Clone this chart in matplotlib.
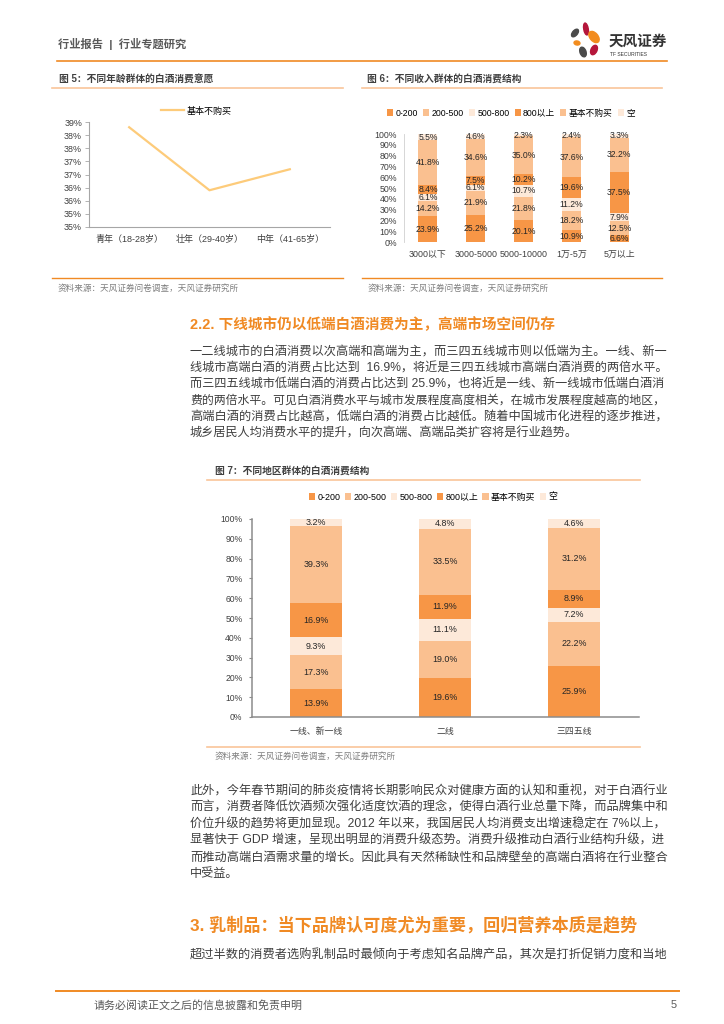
import matplotlib
matplotlib.use('Agg')
import matplotlib.pyplot as plt
from matplotlib.lines import Line2D
from matplotlib.patches import Ellipse

plt.rcParams['font.family'] = ['Liberation Sans', 'Noto Sans CJK SC']

W, H = 724, 1024

# ---- data ----
age_groups = ['青年（18-28岁）', '壮年（29-40岁）', '中年（41-65岁）']
age_no_buy = [38.8, 36.4, 37.2]
age_ticks = [35.0, 35.5, 36.0, 36.5, 37.0, 37.5, 38.0, 38.5, 39.0]
age_tick_labels = ['35%', '35%', '36%', '36%', '37%', '37%', '38%', '38%', '39%']

price_bands = ['0-200', '200-500', '500-800', '800以上', '基本不购买', '空']

income_groups = ['3000以下', '3000-5000', '5000-10000', '1万-5万', '5万以上']
income_0_200 = [23.9, 25.2, 20.1, 10.9, 6.6]
income_200_500 = [14.2, 21.9, 21.8, 18.2, 12.5]
income_500_800 = [6.1, 6.1, 10.7, 11.2, 7.9]
income_800_up = [8.4, 7.5, 10.2, 19.6, 37.5]
income_no_buy = [41.8, 34.6, 35.0, 37.6, 32.2]
income_blank = [5.5, 4.6, 2.3, 2.4, 3.3]

city_groups = ['一线、新一线', '二线', '三四五线']
city_0_200 = [13.9, 19.6, 25.9]
city_200_500 = [17.3, 19.0, 22.2]
city_500_800 = [9.3, 11.1, 7.2]
city_800_up = [16.9, 11.9, 8.9]
city_no_buy = [39.3, 33.5, 31.2]
city_blank = [3.2, 4.8, 4.6]

pct_ticks = [0, 10, 20, 30, 40, 50, 60, 70, 80, 90, 100]

para1 = [
    '一二线城市的白酒消费以次高端和高端为主，而三四五线城市则以低端为主。一线、新一',
    '线城市高端白酒的消费占比达到  16.9%，将近是三四五线城市高端白酒消费的两倍水平。',
    '而三四五线城市低端白酒的消费占比达到 25.9%，也将近是一线、新一线城市低端白酒消',
    '费的两倍水平。可见白酒消费水平与城市发展程度高度相关，在城市发展程度越高的地区，',
    '高端白酒的消费占比越高，低端白酒的消费占比越低。随着中国城市化进程的逐步推进，',
    '城乡居民人均消费水平的提升，向次高端、高端品类扩容将是行业趋势。',
]
para2 = [
    '此外，今年春节期间的肺炎疫情将长期影响民众对健康方面的认知和重视，对于白酒行业',
    '而言，消费者降低饮酒频次强化适度饮酒的理念，使得白酒行业总量下降，而品牌集中和',
    '价位升级的趋势将更加显现。2012 年以来，我国居民人均消费支出增速稳定在 7%以上，',
    '显著快于 GDP 增速，呈现出明显的消费升级态势。消费升级推动白酒行业结构升级，进',
    '而推动高端白酒需求量的增长。因此具有天然稀缺性和品牌壁垒的高端白酒将在行业整合',
    '中受益。',
]
para3 = ['超过半数的消费者选购乳制品时最倾向于考虑知名品牌产品，其次是打折促销力度和当地']

source_text = '资料来源：天风证券问卷调查，天风证券研究所'

DARK = '#F79646'
MID = '#FAC090'
LIGHT = '#FDE9D9'
band_colors = [DARK, MID, LIGHT, DARK, MID, LIGHT]
ORANGE = '#F08A24'
PEACH = '#F9C59A'
TXT = '#3F3F3F'
GRAY = '#7F7F7F'
BODY_FS = 8.75


def fx(x):
    return x / W


def fy(y):
    return 1 - y / H


def box(l, t, r, b):
    return [fx(l), fy(b), (r - l) / W, (b - t) / H]


def hline(fig, x0, x1, y, color, lw):
    fig.add_artist(Line2D([fx(x0), fx(x1)], [fy(y), fy(y)], color=color, lw=lw,
                          transform=fig.transFigure))


def body_lines(fig, lines, y0, step, x0=190, x1=665):
    # every line but the last fills the column width, like justified text
    r = fig.canvas.get_renderer()
    for i, line in enumerate(lines):
        t = fig.text(fx(x0), fy(y0 + i * step), line, fontsize=BODY_FS, color=TXT, va='center')
        if i < len(lines) - 1 or len(lines) == 1:
            w = t.get_window_extent(r).width
            t.set_fontsize(BODY_FS * (x1 - x0) / w)


def stacked(ax, cats, series, width, label_size):
    xs = list(range(len(cats)))
    bottoms = [0.0] * len(cats)
    for name, vals, col in zip(price_bands, series, band_colors):
        ax.bar(xs, vals, width, bottom=bottoms, color=col, label=name, edgecolor='none')
        for x, b, v in zip(xs, bottoms, vals):
            ax.text(x, b + v / 2, f'{v:.1f}%', ha='center', va='center',
                    fontsize=label_size, color='#262626')
        bottoms = [b + v for b, v in zip(bottoms, vals)]
    ax.set_xlim(-0.5, len(cats) - 0.5)
    ax.set_ylim(0, 100)
    ax.set_xticks(xs)
    ax.set_xticklabels(cats)
    ax.set_yticks(pct_ticks)
    ax.set_yticklabels([f'{t}%' for t in pct_ticks])
    ax.patch.set_alpha(0)
    for s in ['top', 'right']:
        ax.spines[s].set_visible(False)


fig = plt.figure(figsize=(7.24, 10.24), dpi=100)

# ---- page header ----
fig.text(fx(58), fy(44), '行业报告  |  行业专题研究', fontsize=8.1, fontweight='bold',
         color='#595959', va='center')
hline(fig, 57, 667, 60.5, ORANGE, 1.2)

logo = fig.add_axes(box(565, 18, 605, 64))
logo.set_xlim(565, 605)
logo.set_ylim(64, 18)
logo.axis('off')
petals = [
    (586, 29, 4.5, 12, -10, '#B5163B'),
    (594, 37, 8, 13, -40, '#F28C1E'),
    (575, 33, 5, 9, 40, '#4A4A4A'),
    (577, 43, 6, 4, 10, '#F28C1E'),
    (583, 52, 6, 10, -20, '#4A4A4A'),
    (594, 50, 6, 10, 25, '#B5163B'),
]
for cx, cy, w, h, ang, col in petals:
    logo.add_patch(Ellipse((cx, cy), w, h, angle=ang, color=col))
fig.text(fx(609), fy(42), '天风证券', fontsize=10.5, fontweight='bold', color='#333333',
         va='center')
fig.text(fx(610), fy(55), 'TF SECURITIES', fontsize=3.6, color='#333333', va='center')

# ---- figure 5 ----
fig.text(fx(59), fy(79), '图 5：不同年龄群体的白酒消费意愿', fontsize=7, fontweight='bold',
         color='#404040', va='center')
hline(fig, 52, 343, 88, PEACH, 1.2)
ax5 = fig.add_axes(box(89, 122, 330, 227))
ax5.plot(range(len(age_groups)), age_no_buy, color='#FDCB7A', lw=1.6, label='基本不购买')
ax5.set_xlim(-0.5, len(age_groups) - 0.5)
ax5.set_ylim(35, 39)
ax5.set_yticks(age_ticks)
ax5.set_yticklabels(age_tick_labels)
ax5.set_xticks(range(len(age_groups)))
ax5.set_xticklabels(age_groups)
ax5.tick_params(axis='y', labelsize=6.4, colors=TXT, length=3, width=0.6, pad=2)
ax5.tick_params(axis='x', labelsize=6.5, colors=TXT, length=0, pad=6)
for s in ['top', 'right']:
    ax5.spines[s].set_visible(False)
for s in ['left', 'bottom']:
    ax5.spines[s].set_color('#A6A6A6')
    ax5.spines[s].set_linewidth(0.8)
ax5.tick_params(axis='y', color='#A6A6A6')
ax5.patch.set_alpha(0)
ax5.legend(loc='center left', bbox_to_anchor=(fx(161), fy(111)), bbox_transform=fig.transFigure,
           frameon=False, fontsize=6.5, handlelength=2.6, handletextpad=0.2,
           borderpad=0, borderaxespad=0)
hline(fig, 52, 343, 278, ORANGE, 1.0)
fig.text(fx(58), fy(288), source_text, fontsize=6.2, color=GRAY, va='center')

# ---- figure 6 ----
fig.text(fx(367), fy(79), '图 6：不同收入群体的白酒消费结构', fontsize=7, fontweight='bold',
         color='#404040', va='center')
hline(fig, 362, 662, 88, PEACH, 1.2)
ax6 = fig.add_axes(box(404, 134, 643, 242))
income_series = [income_0_200, income_200_500, income_500_800,
                 income_800_up, income_no_buy, income_blank]
stacked(ax6, income_groups, income_series, 0.4, 6.2)
ax6.spines['bottom'].set_visible(False)
ax6.spines['left'].set_color('#D0D0D0')
ax6.spines['left'].set_linewidth(0.6)
ax6.tick_params(axis='y', labelsize=6.3, colors=TXT, length=0, pad=5)
ax6.tick_params(axis='x', labelsize=6.4, colors=TXT, length=0, pad=6)
ax6.legend(ncol=6, loc='center', bbox_to_anchor=(fx(511), fy(113)), bbox_transform=fig.transFigure,
           frameon=False, fontsize=6.3, handlelength=0.7, handleheight=0.7,
           handletextpad=0.25, columnspacing=0.6, borderpad=0, borderaxespad=0)
hline(fig, 362, 662, 278, ORANGE, 1.0)
fig.text(fx(368), fy(288), source_text, fontsize=6.2, color=GRAY, va='center')

# ---- section 2.2 ----
fig.text(fx(190), fy(325), '2.2. 下线城市仍以低端白酒消费为主，高端市场空间仍存', fontsize=10.5,
         fontweight='bold', color='#F08A24', va='center')
body_lines(fig, para1, 352, 16.3)

# ---- figure 7 ----
fig.text(fx(215), fy(471), '图 7：不同地区群体的白酒消费结构', fontsize=7, fontweight='bold',
         color='#404040', va='center')
hline(fig, 207, 640, 480, PEACH, 1.2)
ax7 = fig.add_axes(box(251.5, 519, 638.5, 717))
city_series = [city_0_200, city_200_500, city_500_800, city_800_up, city_no_buy, city_blank]
stacked(ax7, city_groups, city_series, 0.4, 6.4)
for s in ['left', 'bottom']:
    ax7.spines[s].set_color('#8C8C8C')
    ax7.spines[s].set_linewidth(1.1)
ax7.tick_params(axis='y', labelsize=6.2, colors=TXT, length=2.5, width=0.8, pad=4)
ax7.tick_params(axis='y', color='#8C8C8C')
ax7.tick_params(axis='x', labelsize=6.4, colors=TXT, length=0, pad=7)
ax7.legend(ncol=6, loc='center', bbox_to_anchor=(fx(433), fy(497)), bbox_transform=fig.transFigure,
           frameon=False, fontsize=6.4, handlelength=0.7, handleheight=0.7,
           handletextpad=0.25, columnspacing=0.5, borderpad=0, borderaxespad=0)
hline(fig, 207, 640, 747, PEACH, 1.2)
fig.text(fx(215), fy(756), source_text, fontsize=6.2, color=GRAY, va='center')

# ---- text after figure 7 ----
body_lines(fig, para2, 791, 16.6)

fig.text(fx(190), fy(925), '3. 乳制品：当下品牌认可度尤为重要，回归营养本质是趋势', fontsize=12.3,
         fontweight='bold', color='#F08A24', va='center')
body_lines(fig, para3, 955, 16.6)

# ---- footer ----
hline(fig, 56, 679, 991, ORANGE, 1.4)
fig.text(fx(94), fy(1005), '请务必阅读正文之后的信息披露和免责申明', fontsize=7.9, color='#595959',
         va='center')
fig.text(fx(671), fy(1005), '5', fontsize=7.9, color='#595959', va='center')

fig.savefig('out.png', dpi=100)
